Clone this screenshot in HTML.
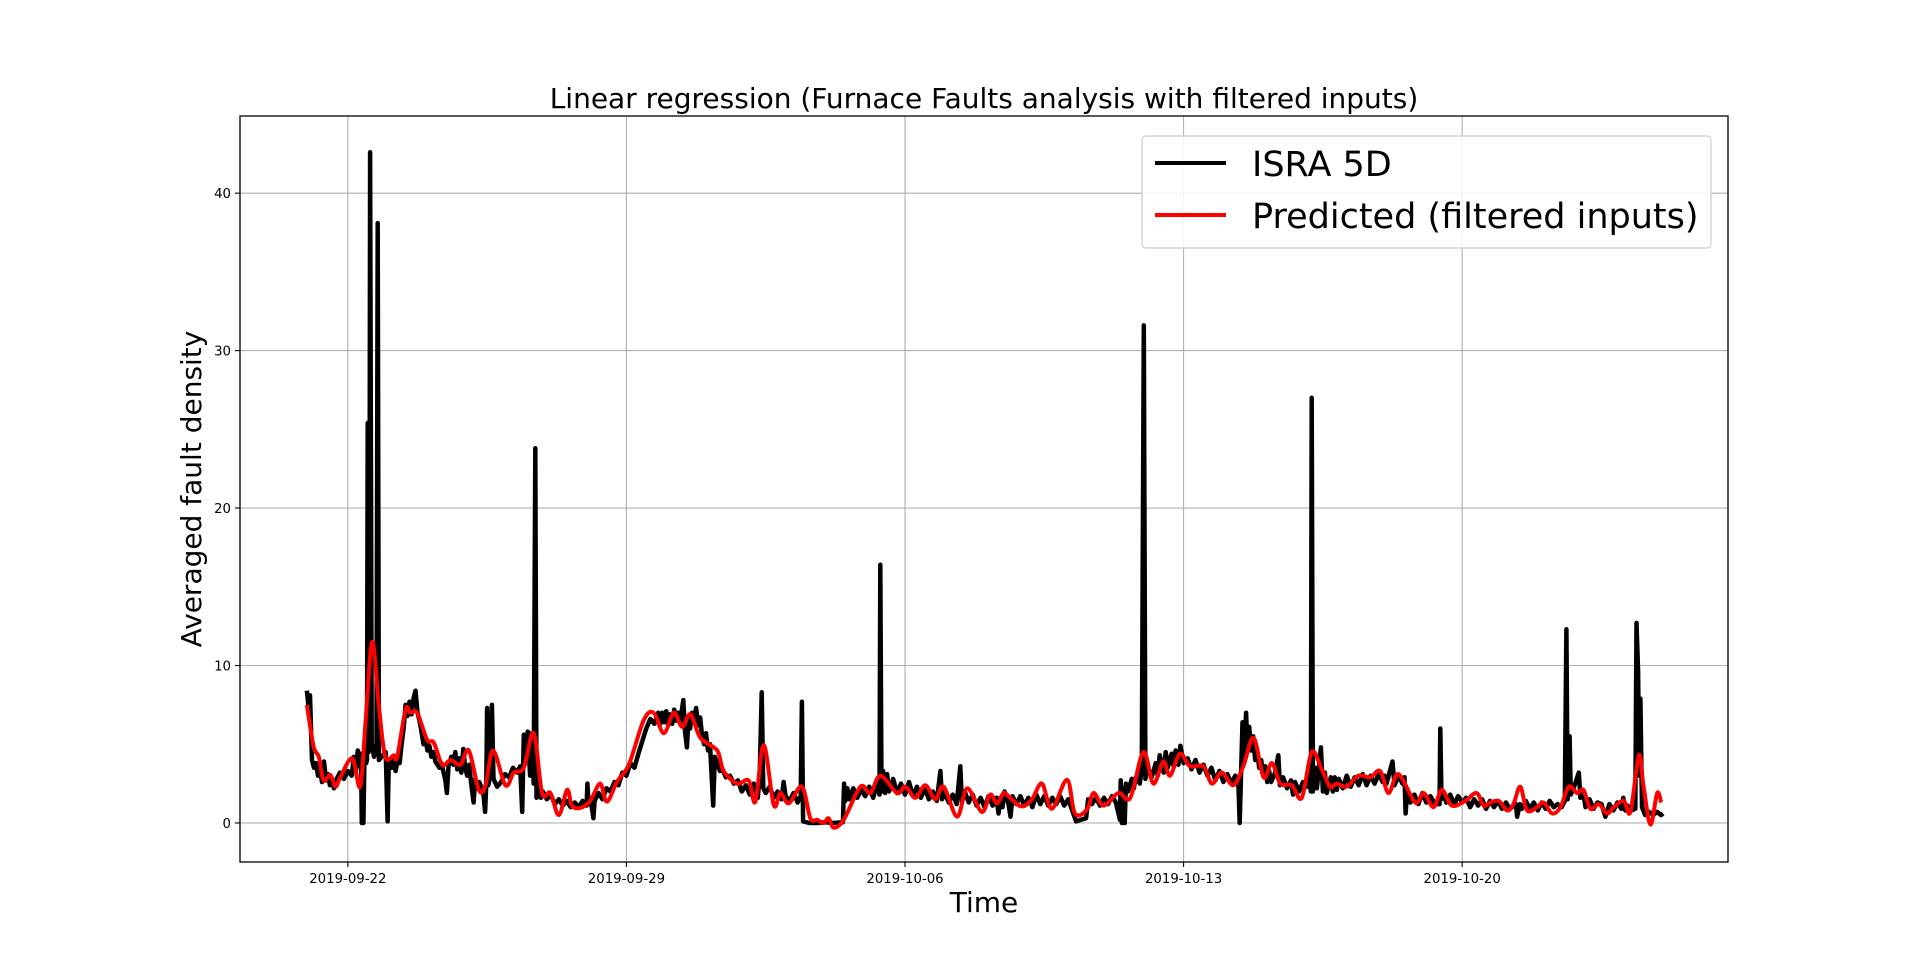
<!DOCTYPE html>
<html><head><meta charset="utf-8">
<style>
html,body{margin:0;padding:0;background:#fff;}
svg{display:block;font-family:"DejaVu Sans","Liberation Sans",sans-serif;}
</style></head>
<body>
<svg id="chart" width="1920" height="968" viewBox="0 0 1920 968">
<rect width="1920" height="968" fill="#fff"/>
<g id="grid"></g>
<g id="plot"></g>
<rect x="240" y="116" width="1488" height="746" fill="none" stroke="#000" stroke-width="1.3"/>
<g id="ticks"></g>
<text x="984" y="108" text-anchor="middle" font-size="28">Linear regression (Furnace Faults analysis with filtered inputs)</text>
<text x="984" y="912" text-anchor="middle" font-size="28">Time</text>
<text transform="translate(201,489) rotate(-90)" text-anchor="middle" font-size="28">Averaged fault density</text>
<g>
<rect x="1142" y="136" width="569" height="112" rx="4" fill="#fff" fill-opacity="0.85" stroke="#ccc" stroke-width="1.2"/>
<line x1="1155" y1="163" x2="1226" y2="163" stroke="#000" stroke-width="4"/>
<text x="1252" y="176" font-size="35">ISRA 5D</text>
<line x1="1155" y1="215" x2="1226" y2="215" stroke="#f00" stroke-width="4"/>
<text x="1252" y="228" font-size="35">Predicted (filtered inputs)</text>
</g>
</svg>
<script>
// x in days since 2019-09-22 00:00
const xTickLabels = ["2019-09-22","2019-09-29","2019-10-06","2019-10-13","2019-10-20"];
const xTickDays = [0,7,14,21,28];
const yTicks = [0,10,20,30,40];
const ispraDays = [-1.03,-0.99,-0.95,-0.9,-0.85,-0.8,-0.75,-0.7,-0.65,-0.6,-0.55,-0.5,-0.45,-0.4,-0.35,-0.3,-0.2,-0.1,0.0,0.1,0.15,0.2,0.25,0.3,0.33,0.35,0.39,0.42,0.44,0.46,0.48,0.5,0.52,0.54,0.56,0.6,0.66,0.72,0.75,0.78,0.95,1.0,1.03,1.1,1.15,1.2,1.25,1.3,1.35,1.4,1.45,1.5,1.55,1.6,1.65,1.7,1.75,1.8,1.85,1.9,1.95,2.0,2.05,2.1,2.15,2.2,2.3,2.35,2.45,2.49,2.53,2.6,2.65,2.7,2.75,2.8,2.85,2.9,2.95,3.0,3.05,3.1,3.16,3.2,3.25,3.3,3.4,3.45,3.48,3.5,3.53,3.58,3.62,3.66,3.75,3.85,3.95,4.05,4.15,4.25,4.33,4.38,4.42,4.47,4.52,4.58,4.62,4.67,4.71,4.74,4.8,4.85,4.9,5.0,5.1,5.2,5.3,5.4,5.5,5.6,5.7,5.8,5.9,6.0,6.02,6.05,6.1,6.17,6.2,6.3,6.4,6.5,6.6,6.7,6.8,6.9,7.0,7.1,7.2,7.3,7.4,7.5,7.6,7.7,7.8,
7.85,7.9,7.95,8.0,8.05,8.1,8.15,8.2,8.25,8.3,8.35,8.43,8.47,8.52,8.56,8.6,8.65,8.7,8.75,8.8,8.85,8.9,8.95,9.0,9.05,9.1,9.18,9.22,9.3,9.35,9.4,9.5,9.6,9.7,9.8,9.9,10.0,10.1,10.2,10.3,10.35,10.4,10.44,10.5,10.6,10.7,10.8,10.9,10.95,11.0,11.1,11.2,11.3,11.38,11.41,11.44,11.6,11.8,12.0,12.2,12.44,12.47,12.5,12.55,12.6,12.7,12.8,12.9,13.0,13.1,13.2,13.3,13.36,13.38,13.41,13.45,13.5,13.55,13.6,13.7,13.8,13.9,14.0,14.1,14.2,14.3,14.4,14.5,14.6,14.7,14.8,14.89,14.93,15.0,15.1,15.2,15.3,15.39,15.43,15.5,15.6,15.7,15.8,15.9,16.0,16.1,16.2,16.3,16.35,
16.4,16.45,16.5,16.6,16.65,16.7,16.8,16.9,17.0,17.1,17.2,17.3,17.4,17.5,17.6,17.7,17.8,17.9,18.0,18.1,18.3,18.55,18.6,18.7,18.8,18.9,19.0,19.1,19.2,19.3,19.4,19.42,19.45,19.48,19.52,19.55,19.6,19.7,19.75,19.8,19.9,19.95,20.0,20.04,20.1,20.2,20.3,20.35,20.4,20.5,20.55,20.6,20.7,20.75,20.8,20.87,20.92,21.0,21.1,21.2,21.3,21.4,21.5,21.6,21.7,21.8,21.9,22.0,22.1,22.2,22.3,22.38,22.41,22.44,22.48,22.52,22.57,22.6,22.65,22.7,22.75,22.8,22.85,22.9,22.95,23.0,23.05,23.1,23.15,23.2,23.3,23.38,23.42,23.5,23.6,23.7,23.75,23.8,23.9,24.0,24.1,24.15,24.2,24.22,24.25,24.3,24.35,24.45,24.5,24.55,24.6,24.7,24.75,24.8,24.85,24.9,25.0,25.1,25.2,25.3,25.4,
25.5,25.6,25.7,25.8,25.9,26.0,26.05,26.1,26.25,26.3,26.4,26.5,26.55,26.58,26.62,26.7,26.8,26.9,27.0,27.1,27.2,27.32,27.43,27.45,27.48,27.55,27.6,27.7,27.8,27.9,28.0,28.1,28.2,28.3,28.4,28.5,28.6,28.7,28.8,28.9,29.0,29.1,29.2,29.35,29.38,29.45,29.5,29.6,29.7,29.8,29.9,30.0,30.1,30.2,30.3,30.4,30.5,30.58,30.62,30.65,30.7,30.73,30.8,30.93,30.97,31.05,31.1,31.2,31.3,31.4,31.5,31.6,31.7,31.8,31.9,32.0,32.05,32.1,32.15,32.25,32.35,32.38,32.42,32.45,32.48,32.52,32.6,32.7,32.8,32.9,33.0,33.05];
const ispraValues = [8.4,7.4,8.1,4.0,3.5,3.8,3.0,3.4,2.6,3.9,2.7,3.1,2.4,2.8,2.2,2.7,3.2,2.8,3.3,3.0,4.2,3.3,4.6,3.6,4.4,0.0,0.0,4.8,5.0,3.8,4.0,25.4,4.5,5.0,42.6,5.0,4.2,5.0,38.1,4.0,4.5,0.1,4.0,3.5,4.2,3.3,4.0,3.8,5.0,6.0,7.5,6.8,7.7,6.9,7.9,8.4,7.0,6.5,5.8,5.0,5.4,4.6,4.9,4.2,4.5,3.9,3.5,3.8,2.7,1.9,3.6,4.2,3.7,4.5,3.4,4.1,3.2,4.7,3.5,3.0,3.7,2.5,1.3,2.8,2.2,2.6,2.0,0.7,2.5,7.3,2.4,3.0,7.5,2.8,2.3,2.6,3.1,2.9,3.5,3.2,3.6,0.7,5.6,4.5,5.8,3.0,5.7,2.5,23.8,1.6,2.3,1.6,2.0,1.5,1.8,1.2,1.5,1.1,1.4,1.0,1.3,1.0,1.4,1.1,2.5,1.2,1.5,0.3,1.4,1.9,1.5,2.2,2.0,2.6,2.4,3.2,3.0,3.8,3.5,4.4,5.2,6.0,6.6,6.3,7.0,
6.3,7.0,6.4,7.1,6.2,6.9,6.3,7.2,6.5,7.0,6.4,7.8,5.9,4.8,6.6,6.0,7.0,6.6,7.3,6.2,6.7,5.6,5.0,5.7,4.6,5.0,1.1,4.2,3.7,3.3,3.5,2.9,3.0,2.5,2.7,2.0,2.4,1.8,2.5,1.6,3.0,8.3,2.2,1.9,2.3,1.6,2.0,1.5,2.6,1.7,1.4,1.9,1.3,1.7,7.7,0.1,0.0,0.0,0.05,0.0,0.05,2.5,1.4,2.2,1.5,2.2,1.6,2.1,1.7,2.3,1.6,2.5,1.8,16.4,2.0,3.3,1.9,3.1,2.0,2.8,1.9,2.5,1.8,2.6,1.7,2.3,1.6,2.2,1.5,2.0,1.4,3.3,1.5,1.9,1.3,1.8,1.2,3.6,1.3,2.0,1.3,1.8,1.1,1.6,1.0,1.7,1.1,1.6,0.6,
1.6,1.0,2.0,1.2,0.4,1.7,1.2,1.7,1.1,1.6,1.0,1.8,1.2,1.7,1.1,1.6,1.2,1.7,1.1,1.5,0.1,0.3,1.5,1.2,1.6,1.1,1.6,1.2,1.7,1.3,0.2,2.7,0.0,2.2,0.0,2.5,2.0,2.8,2.2,2.9,2.5,3.5,31.6,2.8,3.5,2.9,3.8,3.0,4.3,3.2,4.5,3.5,4.4,3.6,4.6,3.7,4.9,3.8,4.1,3.4,4.0,3.2,3.7,3.0,3.5,2.7,3.3,2.6,3.1,2.5,3.0,2.3,0.0,2.8,6.4,4.0,7.0,5.0,6.1,4.6,5.5,4.0,4.6,3.5,4.0,3.0,3.6,2.6,3.3,2.6,3.2,4.3,2.4,2.9,2.2,2.7,1.8,2.6,2.0,2.6,2.3,2.9,2.0,27.0,2.0,3.5,2.2,4.8,2.0,3.2,1.9,2.9,2.0,2.9,2.1,2.8,2.2,3.0,2.3,2.9,2.4,
3.1,2.4,3.0,2.5,3.1,2.6,3.0,2.5,3.9,2.4,3.0,2.5,2.9,0.6,2.0,1.3,1.8,1.2,1.9,1.3,1.7,1.2,1.2,6.0,1.5,1.9,1.3,1.8,1.2,1.7,1.3,1.6,1.0,1.5,1.1,1.5,0.9,1.4,1.0,1.4,0.9,1.3,0.9,1.2,0.4,1.2,0.9,1.4,0.9,1.3,0.8,1.3,0.9,1.4,1.0,1.2,1.0,1.4,12.3,1.5,5.5,1.8,2.2,3.2,1.6,1.8,1.0,1.5,0.9,1.3,1.2,0.4,1.2,0.8,1.3,0.9,1.6,0.8,1.1,0.8,0.9,12.7,9.6,3.0,7.9,1.0,0.5,0.7,0.5,0.7,0.5,0.6];
const predDays = [-1.03,-0.86,-0.73,-0.61,-0.44,-0.31,-0.19,0.11,0.31,0.44,0.61,0.78,0.94,1.15,1.24,1.45,1.57,1.74,1.99,2.16,2.37,2.58,2.83,3.04,3.29,3.46,3.65,3.96,4.17,4.42,4.67,4.88,5.09,5.30,5.51,5.63,5.84,6.09,6.34,6.51,6.76,7.06,7.43,7.68,7.94,8.19,8.40,8.61,8.86,9.28,9.44,9.78,10.07,10.24,10.45,10.70,10.87,11.08,11.41,11.62,11.79,11.96,12.08,12.21,12.46,12.88,13.13,13.38,13.80,14.01,14.26,14.51,14.76,14.97,15.31,15.56,15.93,16.14,16.31,16.48,16.64,16.93,17.19,17.44,17.69,18.07,18.27,18.57,18.74,18.99,19.36,19.66,19.99,20.24,20.49,20.66,20.91,21.16,21.50,21.71,21.96,22.25,22.50,22.76,23.01,23.22,23.43,23.72,23.97,24.22,24.47,24.68,24.85,25.10,25.39,25.69,25.94,26.15,26.40,26.82,27.03,27.28,27.49,27.74,28.08,28.36,28.54,28.71,28.92,29.13,29.29,29.46,29.63,29.88,30.05,30.26,30.47,30.68,30.89,31.05,31.22,31.43,31.64,31.81,32.06,32.23,32.44,32.56,32.73,32.90,33.00];
const predValues = [7.5,4.85,4.2,2.7,3.05,2.3,2.9,4.1,2.3,6.3,11.5,7.4,4.2,4.3,4.2,7.2,7.0,7.0,5.3,5.1,3.7,4.0,3.7,4.6,2.1,2.4,4.6,2.4,3.2,3.5,5.7,1.9,1.9,0.5,2.1,1.1,0.95,1.4,2.5,1.35,2.6,3.7,6.5,7.0,5.7,7.0,6.1,6.9,5.4,4.6,3.3,2.5,2.7,1.35,4.95,1.15,1.9,1.25,2.3,0.3,0.2,0.0,0.3,-0.3,0.2,2.3,1.9,3.0,1.9,2.3,1.6,2.4,1.5,2.3,0.4,2.2,0.7,1.8,1.25,1.9,1.6,1.05,1.5,2.5,0.9,2.75,0.6,0.85,1.9,1.1,1.9,1.6,4.5,2.5,3.9,3.0,4.4,3.6,3.6,2.5,3.2,2.4,3.6,5.4,2.9,3.8,2.5,2.4,1.6,4.5,3.4,2.3,2.5,2.3,3.0,2.9,3.3,1.9,3.1,1.3,1.9,1.0,2.1,1.1,1.4,1.9,1.1,1.3,1.4,0.8,1.2,2.3,0.8,1.0,1.3,0.6,1.0,2.3,1.9,2.1,0.9,1.2,0.6,1.0,1.4,0.7,4.3,2.3,-0.1,1.9,1.3];

const X0=240,X1=1728,Y0=116,Y1=862;
const xMin=-2.71,xMax=34.68,yMin=-2.48,yMax=44.9;
const xs=d=>X0+(d-xMin)/(xMax-xMin)*(X1-X0);
const ys=v=>Y1-(v-yMin)/(yMax-yMin)*(Y1-Y0);
const NS='http://www.w3.org/2000/svg';
const grid=document.getElementById('grid'),plot=document.getElementById('plot'),ticks=document.getElementById('ticks');
function mk(t,a){const e=document.createElementNS(NS,t);for(const k in a)e.setAttribute(k,a[k]);return e;}
xTickDays.forEach((d,i)=>{
  const x=xs(d);
  const g=mk('line',{x1:x,x2:x,y1:Y0,y2:Y1,stroke:'#b0b0b0','stroke-width':1.1});
  
  
  grid.appendChild(g);
  const t=mk('line',{x1:x,x2:x,y1:Y1,y2:Y1+5,stroke:'#000','stroke-width':1.1});
  
  
  ticks.appendChild(t);
  const l=mk('text',{x:x,y:Y1+21,'text-anchor':'middle','font-size':13.3});
  l.textContent=xTickLabels[i];
  
  
  ticks.appendChild(l);
});
yTicks.forEach(v=>{
  const y=ys(v);
  const g=mk('line',{x1:X0,x2:X1,y1:y,y2:y,stroke:'#b0b0b0','stroke-width':1.1});
  
  
  grid.appendChild(g);
  const t=mk('line',{x1:X0-5,x2:X0,y1:y,y2:y,stroke:'#000','stroke-width':1.1});
  
  
  ticks.appendChild(t);
  const l=mk('text',{x:X0-9,y:y+5,'text-anchor':'end','font-size':13.3});
  l.textContent=String(v);
  
  
  ticks.appendChild(l);
});
function path(days,vals){return days.map((d,i)=>(i?'L':'M')+xs(d).toFixed(1)+','+ys(vals[i]).toFixed(1)).join('');}
function smooth(days,vals){
  const p=days.map((d,i)=>[xs(d),ys(vals[i])]);
  let s='M'+p[0][0].toFixed(1)+','+p[0][1].toFixed(1);
  for(let i=0;i<p.length-1;i++){
    const p0=p[Math.max(0,i-1)],p1=p[i],p2=p[i+1],p3=p[Math.min(p.length-1,i+2)];
    const c1x=p1[0]+(p2[0]-p0[0])/6,c1y=p1[1]+(p2[1]-p0[1])/6;
    const c2x=p2[0]-(p3[0]-p1[0])/6,c2y=p2[1]-(p3[1]-p1[1])/6;
    s+='C'+c1x.toFixed(1)+','+c1y.toFixed(1)+' '+c2x.toFixed(1)+','+c2y.toFixed(1)+' '+p2[0].toFixed(1)+','+p2[1].toFixed(1);
  }
  return s;
}
const b=mk('path',{d:path(ispraDays,ispraValues),fill:'none',stroke:'#000','stroke-width':4.5,'stroke-linejoin':'round'});


plot.appendChild(b);
const r=mk('path',{d:smooth(predDays,predValues),fill:'none',stroke:'#f00','stroke-width':4,'stroke-linejoin':'round'});


plot.appendChild(r);
</script>
</body></html>
